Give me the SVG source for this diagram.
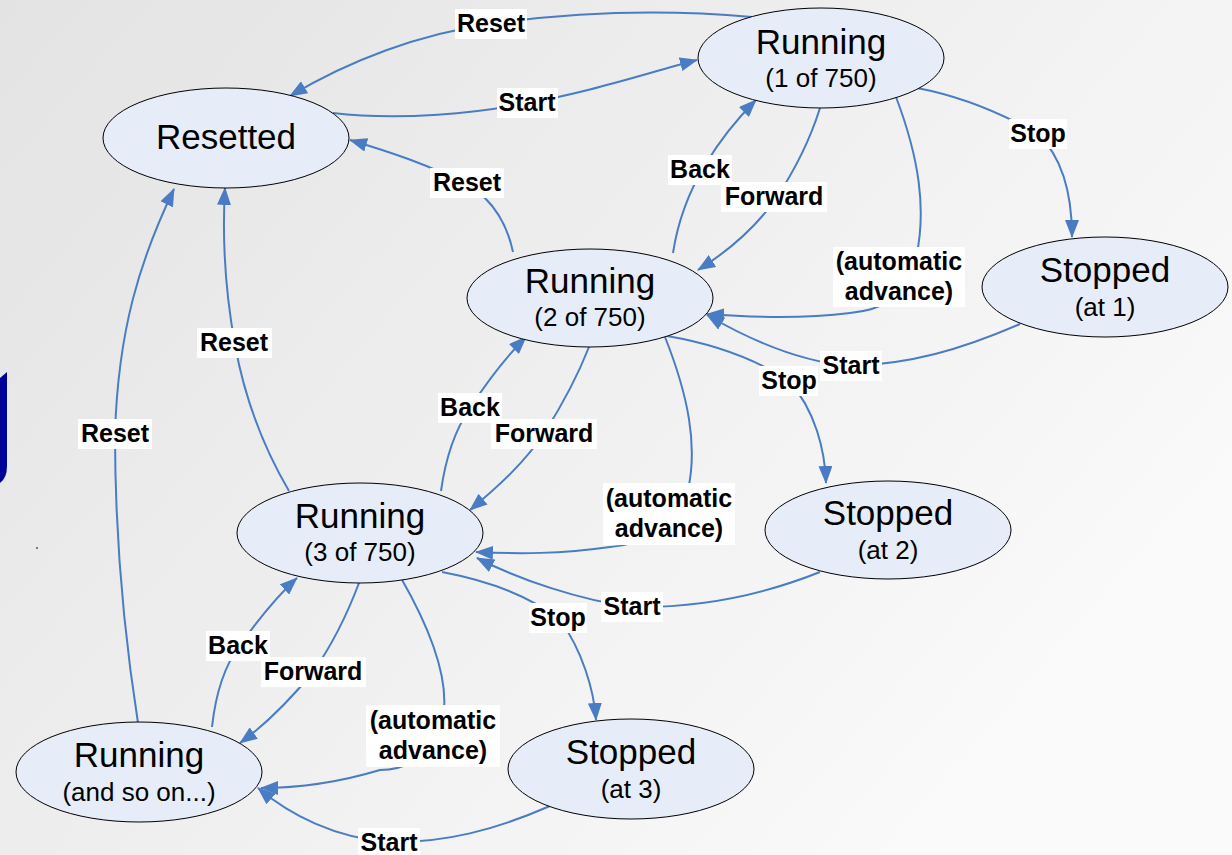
<svg xmlns="http://www.w3.org/2000/svg" width="1232" height="855" viewBox="0 0 1232 855">
<defs>
<linearGradient id="bg" x1="0" y1="0" x2="1" y2="0.6">
<stop offset="0" stop-color="#e3e3e3"/>
<stop offset="1" stop-color="#fafafa"/>
</linearGradient>
<marker id="arr" markerUnits="userSpaceOnUse" markerWidth="18" markerHeight="14" viewBox="0 0 18 14" refX="17" refY="7" orient="auto">
<path d="M0,0 L18,7 L0,14 z" fill="#4a7cc4"/>
</marker>
</defs>
<style>
.node ellipse{fill:#e6edf8;stroke:#000;stroke-width:1}
.big{font-family:"Liberation Sans",Arial,sans-serif;font-size:35px;fill:#000;text-anchor:middle}
.sub{font-family:"Liberation Sans",Arial,sans-serif;font-size:26px;fill:#000;text-anchor:middle}
.edge{fill:none;stroke:#4a7cc4;stroke-width:2;marker-end:url(#arr)}
.lbl rect{fill:#fff}
.lbl text{font-family:"Liberation Sans",Arial,sans-serif;font-size:25px;font-weight:bold;fill:#000;text-anchor:middle}
</style>
<rect width="1232" height="855" fill="url(#bg)"/>
<path d="M0,378 L7,372 L7,466 Q7,478 0,483 Z" fill="#000099"/>
<circle cx="37" cy="548" r="1" fill="#555"/>

<g id="connectors">
<path class="edge" d="M752,17 C650,8 560,14 490,24 C420,34 350,60 290,96"/>
<path class="edge" d="M333,113 C400,121 480,113 527,103 C590,92 640,75 697,60"/>
<path class="edge" d="M513,252 C508,228 495,200 467,185 C430,165 390,152 350,140"/>
<path class="edge" d="M673,253 C678,220 690,190 705,165 C720,140 738,118 756,100"/>
<path class="edge" d="M820,108 C810,140 795,170 775,200 C755,228 730,250 698,270"/>
<path class="edge" d="M896,97 C918,155 928,210 915,262 C905,300 880,310 850,313 C810,318 760,318 707,314"/>
<path class="edge" d="M917,88 C970,98 1010,118 1038,134 C1065,160 1072,200 1072,237"/>
<path class="edge" d="M1020,324 C960,350 910,364 851,366 C800,362 750,340 707,315"/>
<path class="edge" d="M667,336 C720,345 760,362 789,381 C815,410 825,450 826,483"/>
<path class="edge" d="M289,491 C265,450 245,400 235,345 C225,290 222,240 225,188"/>
<path class="edge" d="M441,491 C446,455 455,430 470,408 C485,385 505,358 526,337"/>
<path class="edge" d="M589,347 C578,375 562,405 545,432 C525,462 500,485 470,510"/>
<path class="edge" d="M665,337 C688,395 698,445 688,490 C675,530 640,545 610,547 C560,554 520,554 476,552"/>
<path class="edge" d="M820,572 C760,596 700,608 632,607 C580,600 520,580 477,558"/>
<path class="edge" d="M442,572 C495,582 535,600 560,620 C582,650 594,690 596,720"/>
<path class="edge" d="M138,723 C125,640 115,540 115,434 C118,330 140,260 174,189"/>
<path class="edge" d="M212,727 C216,690 225,665 240,645 C258,620 275,598 297,578"/>
<path class="edge" d="M359,583 C345,620 330,648 313,672 C290,700 265,725 240,743"/>
<path class="edge" d="M401,578 C432,632 447,675 444,710 C440,760 400,770 380,770 C340,782 300,788 261,788"/>
<path class="edge" d="M550,806 C495,830 445,843 389,842 C335,838 290,815 258,788"/>
</g>

<g id="labels">
<g class="lbl"><rect x="455" y="9" width="72" height="30"/><text x="491" y="32">Reset</text></g>
<g class="lbl"><rect x="497" y="88" width="61" height="30"/><text x="527" y="111">Start</text></g>
<g class="lbl"><rect x="430" y="168" width="74" height="30"/><text x="467" y="191">Reset</text></g>
<g class="lbl"><rect x="668" y="155" width="64" height="30"/><text x="700" y="178">Back</text></g>
<g class="lbl"><rect x="721" y="182" width="106" height="30"/><text x="774" y="205">Forward</text></g>
<g class="lbl"><rect x="1009" y="119" width="58" height="30"/><text x="1038" y="142">Stop</text></g>
<g class="lbl"><rect x="833" y="247" width="132" height="60"/><text x="899" y="270">(automatic</text><text x="899" y="300">advance)</text></g>
<g class="lbl"><rect x="820" y="351" width="62" height="30"/><text x="851" y="374">Start</text></g>
<g class="lbl"><rect x="759" y="366" width="59" height="30"/><text x="789" y="389">Stop</text></g>
<g class="lbl"><rect x="197" y="328" width="75" height="30"/><text x="234" y="351">Reset</text></g>
<g class="lbl"><rect x="438" y="393" width="64" height="30"/><text x="470" y="416">Back</text></g>
<g class="lbl"><rect x="491" y="419" width="106" height="30"/><text x="544" y="442">Forward</text></g>
<g class="lbl"><rect x="603" y="483" width="132" height="62"/><text x="669" y="507">(automatic</text><text x="669" y="537">advance)</text></g>
<g class="lbl"><rect x="601" y="592" width="62" height="30"/><text x="632" y="615">Start</text></g>
<g class="lbl"><rect x="529" y="603" width="58" height="30"/><text x="558" y="626">Stop</text></g>
<g class="lbl"><rect x="78" y="419" width="74" height="30"/><text x="115" y="442">Reset</text></g>
<g class="lbl"><rect x="206" y="631" width="64" height="30"/><text x="238" y="654">Back</text></g>
<g class="lbl"><rect x="261" y="657" width="105" height="30"/><text x="313" y="680">Forward</text></g>
<g class="lbl"><rect x="366" y="705" width="134" height="62"/><text x="433" y="729">(automatic</text><text x="433" y="759">advance)</text></g>
<g class="lbl"><rect x="358" y="828" width="62" height="27"/><text x="389" y="851">Start</text></g>
</g>

<g id="n-resetted" class="node"><ellipse cx="226" cy="138" rx="123" ry="50"/><text class="big" x="226" y="149">Resetted</text></g>
<g id="n-run1" class="node"><ellipse cx="821" cy="58" rx="123" ry="50"/><text class="big" x="821" y="54">Running</text><text class="sub" x="821" y="87">(1 of 750)</text></g>
<g id="n-run2" class="node"><ellipse cx="590" cy="298" rx="123" ry="49"/><text class="big" x="590" y="293">Running</text><text class="sub" x="590" y="326">(2 of 750)</text></g>
<g id="n-run3" class="node"><ellipse cx="360" cy="533" rx="123" ry="50"/><text class="big" x="360" y="528">Running</text><text class="sub" x="360" y="561">(3 of 750)</text></g>
<g id="n-runn" class="node"><ellipse cx="139" cy="772" rx="123" ry="50"/><text class="big" x="139" y="767">Running</text><text class="sub" x="139" y="801">(and so on...)</text></g>
<g id="n-stop1" class="node"><ellipse cx="1105" cy="287" rx="123" ry="50"/><text class="big" x="1105" y="282">Stopped</text><text class="sub" x="1105" y="316">(at 1)</text></g>
<g id="n-stop2" class="node"><ellipse cx="888" cy="530" rx="123" ry="49"/><text class="big" x="888" y="525">Stopped</text><text class="sub" x="888" y="559">(at 2)</text></g>
<g id="n-stop3" class="node"><ellipse cx="631" cy="769" rx="123" ry="50"/><text class="big" x="631" y="764">Stopped</text><text class="sub" x="631" y="798">(at 3)</text></g>
</svg>
